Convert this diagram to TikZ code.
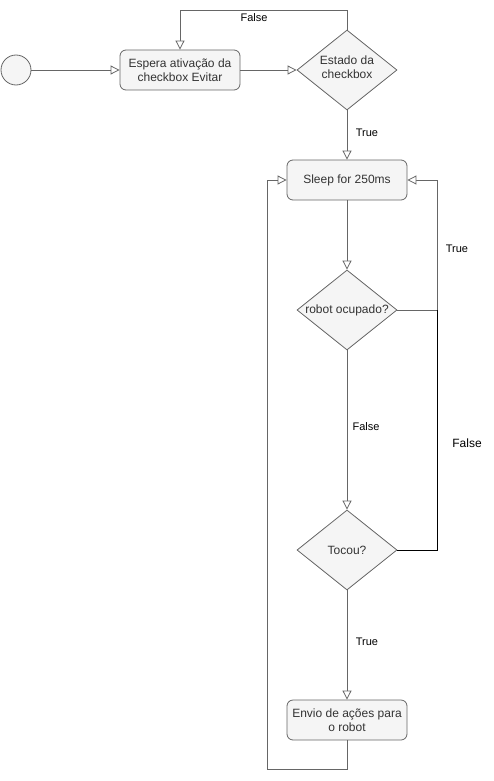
\documentclass[tikz,border=0pt]{standalone}
\usepackage{fontspec}
\setmainfont{Liberation Sans}
\usetikzlibrary{arrows.meta,shapes.geometric}
\definecolor{fillc}{HTML}{F5F5F5}
\definecolor{strokec}{HTML}{666666}
\definecolor{textc}{HTML}{333333}
\tikzset{
  box/.style={draw=strokec, fill=fillc, rounded corners=6pt, minimum width=120pt, minimum height=40pt, inner sep=0pt, text=textc, font=\fontsize{12}{14.5}\selectfont, align=center, line width=0.8pt},
  decision/.style={draw=strokec, fill=fillc, shape=diamond, minimum width=100pt, minimum height=80pt, inner sep=0pt, line width=0.8pt},
  dtext/.style={text=textc, font=\fontsize{12}{14.5}\selectfont, align=center},
  startc/.style={draw=strokec, fill=fillc, circle, minimum size=30pt, inner sep=0pt, line width=0.8pt},
  arr/.style={draw=strokec, line width=0.8pt, -{Triangle[open, length=9pt, width=9pt, fill=white]}},
  plain/.style={draw=strokec, line width=0.8pt},
  lbl/.style={font=\fontsize{11}{13}\selectfont, text=black, inner sep=0pt},
}
\begin{document}
\begin{tikzpicture}[x=1pt,y=-1pt]
\useasboundingbox (0,0) rectangle (493,781);
\node[startc] (start) at (16,70) {};
\node[box] (wait) at (180,70) {Espera ativação da\\checkbox Evitar};
\node[decision] (d1) at (347,70) {};
\node[dtext] (d1t) at (347,67) {Estado da\\checkbox};
\node[box] (sleep) at (347,180) {Sleep for 250ms};
\node[decision] (d2) at (347,310) {};
\node[dtext] (d2t) at (347,310) {robot ocupado?};
\node[decision] (d3) at (347,550) {};
\node[dtext] (d3t) at (347,550) {Tocou?};
\node[box] (envio) at (347,720) {Envio de ações para\\o robot};

\coordinate (rj) at (437,310);
\coordinate (lb) at (267,769);
\coordinate (tp) at (347,10);

\draw[arr] (start.east) -- (wait.west);
\draw[arr] (wait.east) -- (d1.west);
\draw[arr] (d1.north) -- (tp) -| (wait.north);
\draw[arr] (d1.south) -- (sleep.north);
\draw[arr] (sleep.south) -- (d2.north);
\draw[arr] (d2.east) -- (rj) |- (sleep.east);
\draw[arr] (d2.south) -- (d3.north);
\draw[line width=0.8pt, black] (d3.east) -| (rj);
\draw[arr] (d3.south) -- (envio.north);
\draw[arr] (envio.south) |- (lb) |- (sleep.west);

\node[lbl] (l1) at (254,18) {False};
\node[lbl] (l2) at (367,133) {True};
\node[lbl] (l3) at (457,249) {True};
\node[lbl] (l4) at (366,427) {False};
\node[lbl, font=\fontsize{12}{14}\selectfont] (l5) at (467,443) {False};
\node[lbl] (l6) at (367,642) {True};
\end{tikzpicture}
\end{document}
